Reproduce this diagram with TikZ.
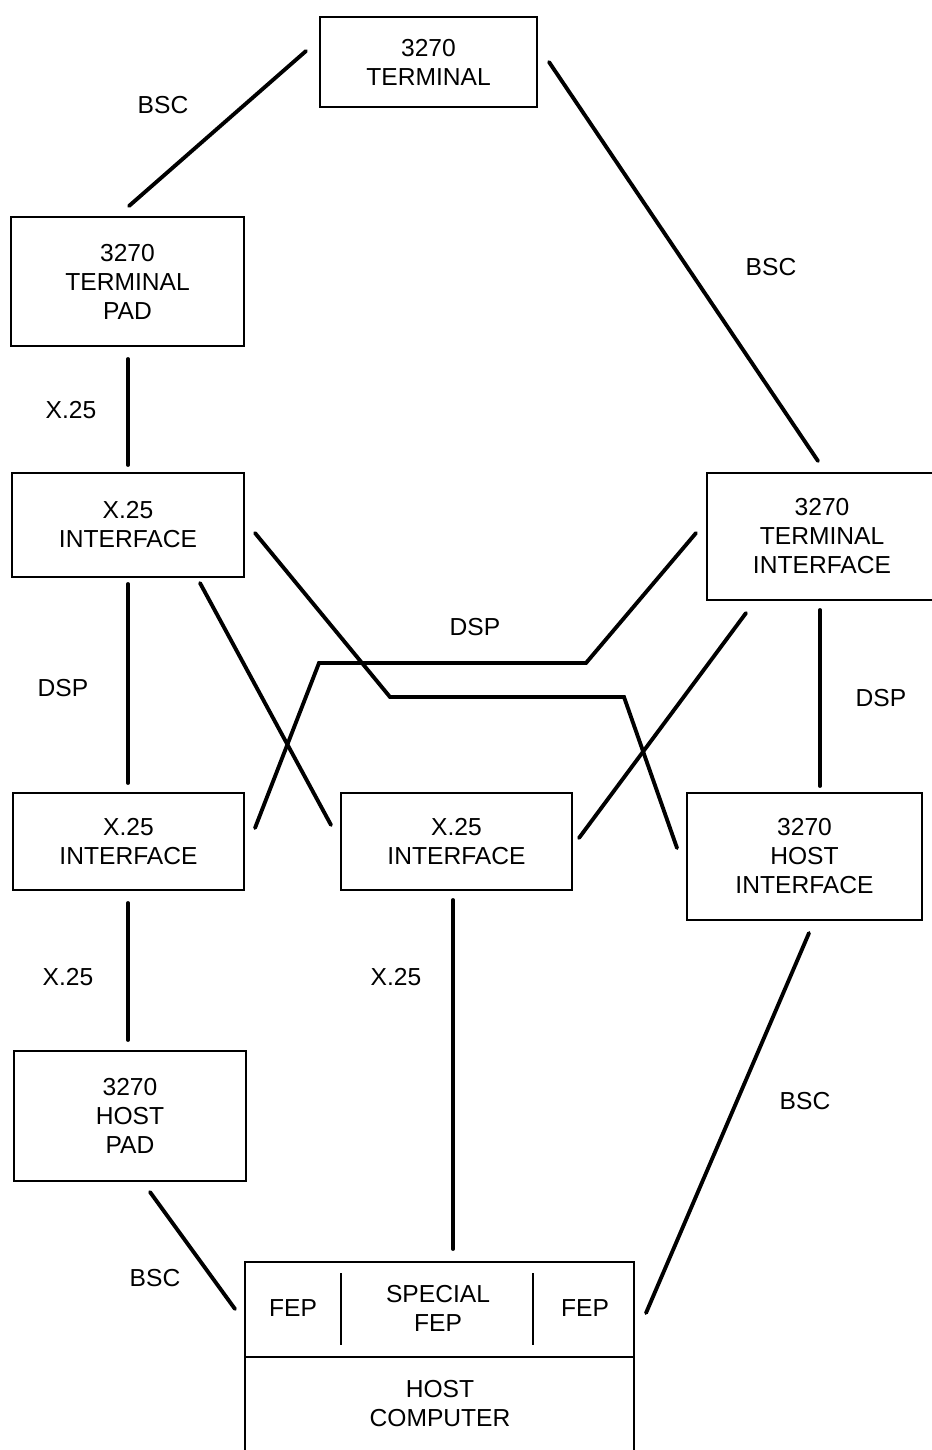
\documentclass[tikz,border=0pt]{standalone}
\usepackage{fontspec}
\setmainfont{Liberation Sans}
\tikzset{
  unitbox/.style={draw, line width=1.6pt, align=center, inner sep=0pt,
    font=\fontsize{14}{16.5}\selectfont},
  link/.style={line width=2.2pt, line cap=round},
  linklabel/.style={font=\fontsize{14}{16.5}\selectfont}
}
\begin{document}
\begin{tikzpicture}[x=0.02cm,y=-0.02cm]
\useasboundingbox (0,0) rectangle (931,1450);
% units
\node[unitbox, minimum width=4.34cm, minimum height=1.8cm] (term) at (428.5,62) {3270\\TERMINAL};
\node[unitbox, minimum width=4.66cm, minimum height=2.58cm] (tpad) at (127.5,281.5) {3270\\TERMINAL\\PAD};
\node[unitbox, minimum width=4.64cm, minimum height=2.08cm] (xifa) at (128,525) {X.25\\INTERFACE};
\node[unitbox, minimum width=4.6cm, minimum height=2.54cm] (tifc) at (822,536.5) {3270\\TERMINAL\\INTERFACE};
\node[unitbox, minimum width=4.62cm, minimum height=1.94cm] (xifb) at (128.5,841.5) {X.25\\INTERFACE};
\node[unitbox, minimum width=4.62cm, minimum height=1.94cm] (xifc) at (456.5,841.5) {X.25\\INTERFACE};
\node[unitbox, minimum width=4.7cm, minimum height=2.54cm] (hifc) at (804.5,856.5) {3270\\HOST\\INTERFACE};
\node[unitbox, minimum width=4.64cm, minimum height=2.6cm] (hpad) at (130,1116) {3270\\HOST\\PAD};
% host computer with its front ends
\draw[line width=1.6pt] (245,1465) -- (245,1262) -- (634,1262) -- (634,1465);
\draw[line width=1.6pt] (245,1357) -- (634,1357);
\draw[line width=1.6pt] (341,1273) -- (341,1345);
\draw[line width=1.6pt] (533,1273) -- (533,1345);
\node[linklabel] (fepl) at (293,1308) {FEP};
\node[linklabel, align=center] (fepx) at (438,1308) {SPECIAL\\FEP};
\node[linklabel] (fepr) at (585,1308) {FEP};
\node[linklabel, align=center] (host) at (440,1404) {HOST\\COMPUTER};
% connector ends
\coordinate (a1) at (306,51);   \coordinate (a2) at (129,206);
\coordinate (b1) at (549,62);   \coordinate (b2) at (818,461);
\coordinate (c1) at (128,359);  \coordinate (c2) at (128,465);
\coordinate (d1) at (128,584);  \coordinate (d2) at (128,783);
\coordinate (e1) at (255,533);  \coordinate (e2) at (677,848);
\coordinate (f1) at (200,583);  \coordinate (f2) at (331,825);
\coordinate (g1) at (696,533);  \coordinate (g2) at (255,828);
\coordinate (h1) at (746,613);  \coordinate (h2) at (579,838);
\coordinate (i1) at (820,610);  \coordinate (i2) at (820,786);
\coordinate (j1) at (128,903);  \coordinate (j2) at (128,1040);
\coordinate (k1) at (453,900);  \coordinate (k2) at (453,1249);
\coordinate (l1) at (150,1192); \coordinate (l2) at (235,1309);
\coordinate (m1) at (809,933);  \coordinate (m2) at (646,1313);
% connectors
\draw[link] (a1) -- (a2);
\draw[link] (b1) -- (b2);
\draw[link] (c1) -- (c2);
\draw[link] (d1) -- (d2);
\draw[link] (e1) -- (390,697) -- (624,697) -- (e2);
\draw[link] (f1) -- (f2);
\draw[link] (g1) -- (586,663) -- (319,663) -- (g2);
\draw[link] (h1) -- (h2);
\draw[link] (i1) -- (i2);
\draw[link] (j1) -- (j2);
\draw[link] (k1) -- (k2);
\draw[link] (l1) -- (l2);
\draw[link] (m1) -- (m2);
% labels
\node[linklabel] (bsca) at (163,105) {BSC};
\node[linklabel] (bscb) at (771,267) {BSC};
\node[linklabel] (x25a) at (71,410) {X.25};
\node[linklabel] (dspa) at (63,688) {DSP};
\node[linklabel] (dspb) at (475,627) {DSP};
\node[linklabel] (dspc) at (881,698) {DSP};
\node[linklabel] (x25b) at (68,977) {X.25};
\node[linklabel] (x25c) at (396,977) {X.25};
\node[linklabel] (bscc) at (155,1278) {BSC};
\node[linklabel] (bscd) at (805,1101) {BSC};
\end{tikzpicture}
\end{document}
